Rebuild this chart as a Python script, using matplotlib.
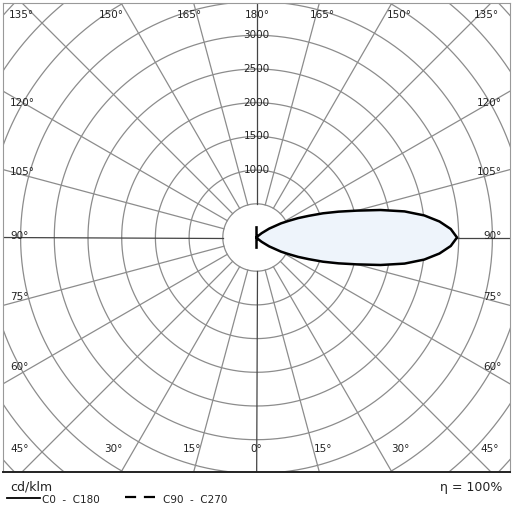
import numpy as np
import matplotlib.pyplot as plt

# C0 - C180 intensity (cd/klm) against gamma (0 = down, 90 = horizontal, 180 = up)
gamma = [0, 5, 10, 20, 30, 40, 45, 50, 55, 60, 62.5, 65, 67.5, 70, 72.5, 75, 77.5, 80,
         82.5, 85, 87.5, 90, 92.5, 95, 97.5, 100, 102.5, 105, 107.5, 110, 112.5, 115,
         117.5, 120, 125, 130, 135, 140, 150, 160, 170, 175, 180]
c0 = [150, 0, 0, 0, 0, 0, 30, 100, 230, 420, 530, 680, 840, 1050, 1275, 1540, 1885, 2230,
      2510, 2725, 2885, 2975, 2885, 2725, 2510, 2230, 1885, 1540, 1275, 1050, 840, 680,
      530, 420, 230, 100, 30, 0, 0, 0, 0, 0, 150]

rings = [500, 1000, 1500, 2000, 2500, 3000, 3500, 4000, 4500, 5000]
ring_labels = [1000, 1500, 2000, 2500, 3000]
spoke_step = 15

top_labels = ["135°", "150°", "165°", "180°", "165°", "150°", "135°"]
top_x = [21, 111, 189, 257, 322, 399, 486]
side_labels = ["120°", "105°", "90°", "75°", "60°"]
side_y = [103, 172, 236, 297, 367]
bottom_labels = ["45°", "30°", "15°", "0°", "15°", "30°", "45°"]
bottom_x = [20, 113, 192, 256, 323, 400, 490]

k = 0.0674      # pixels per cd/klm
cx, cy = 256.5, 237.5

fig = plt.figure(figsize=(5.12, 5.12), dpi=100)
ax = fig.add_axes([3 / 512, 40 / 512, 507 / 512, 469 / 512])
ax.set_xlim(-(cx - 3) / k, (510 - cx) / k)
ax.set_ylim(-(472 - cy) / k, (cy - 3) / k)
ax.set_xticks([])
ax.set_yticks([])
for s in ['top', 'left', 'right']:
    ax.spines[s].set_color('#999999')
    ax.spines[s].set_linewidth(0.8)
ax.spines['bottom'].set_color('#222222')
ax.spines['bottom'].set_linewidth(1.4)

t = np.linspace(0, 2 * np.pi, 721)
for r in rings:
    ax.plot(r * np.cos(t), r * np.sin(t), color='#8c8c8c', lw=0.9, zorder=1)

for a in range(0, 360, spoke_step):
    th = np.radians(a)
    col = '#444444' if a % 90 == 0 else '#8c8c8c'
    ax.plot([500 * np.cos(th), 8000 * np.cos(th)], [500 * np.sin(th), 8000 * np.sin(th)],
            color=col, lw=0.9, zorder=1)

for r in ring_labels:
    ax.text(0, r, str(r), ha='center', va='center', fontsize=7.5, color='#222222', zorder=3)

# curve: C0 on the right half, C180 (zero) on the left
g = np.radians(gamma)
I = np.array(c0)
x = I * np.sin(g)
y = -I * np.cos(g)
ax.fill(x, y, color='#eef4fb', zorder=2, lw=0)
ax.plot(x, y, color='black', lw=1.8, zorder=4, solid_joinstyle='round')


def ftext(px, py, s, **kw):
    fig.text(px / 512, 1 - py / 512, s, **kw)


for s, px in zip(top_labels, top_x):
    ftext(px, 15, s, ha='center', va='center', fontsize=7.5, color='#222222')
for s, py in zip(side_labels, side_y):
    ftext(10, py, s, ha='left', va='center', fontsize=7.5, color='#222222')
    ftext(502, py, s, ha='right', va='center', fontsize=7.5, color='#222222')
for s, px in zip(bottom_labels, bottom_x):
    ftext(px, 449, s, ha='center', va='center', fontsize=7.5, color='#222222')

ftext(10, 487, "cd/klm", ha='left', va='center', fontsize=9, color='#222222')
fig.add_artist(plt.Line2D([7 / 512, 40 / 512], [1 - 498 / 512] * 2, color='black', lw=1.3))
ftext(42, 500, "C0  -  C180", ha='left', va='center', fontsize=7.5, color='#222222')
fig.add_artist(plt.Line2D([125 / 512, 156 / 512], [1 - 497 / 512] * 2, color='black', lw=1.6,
                          dashes=(5, 3.5)))
ftext(163, 500, "C90  -  C270", ha='left', va='center', fontsize=7.5, color='#222222')
ftext(502, 488, "η = 100%", ha='right', va='center', fontsize=9, color='#222222')

fig.savefig('out.png', dpi=100, facecolor='white')
